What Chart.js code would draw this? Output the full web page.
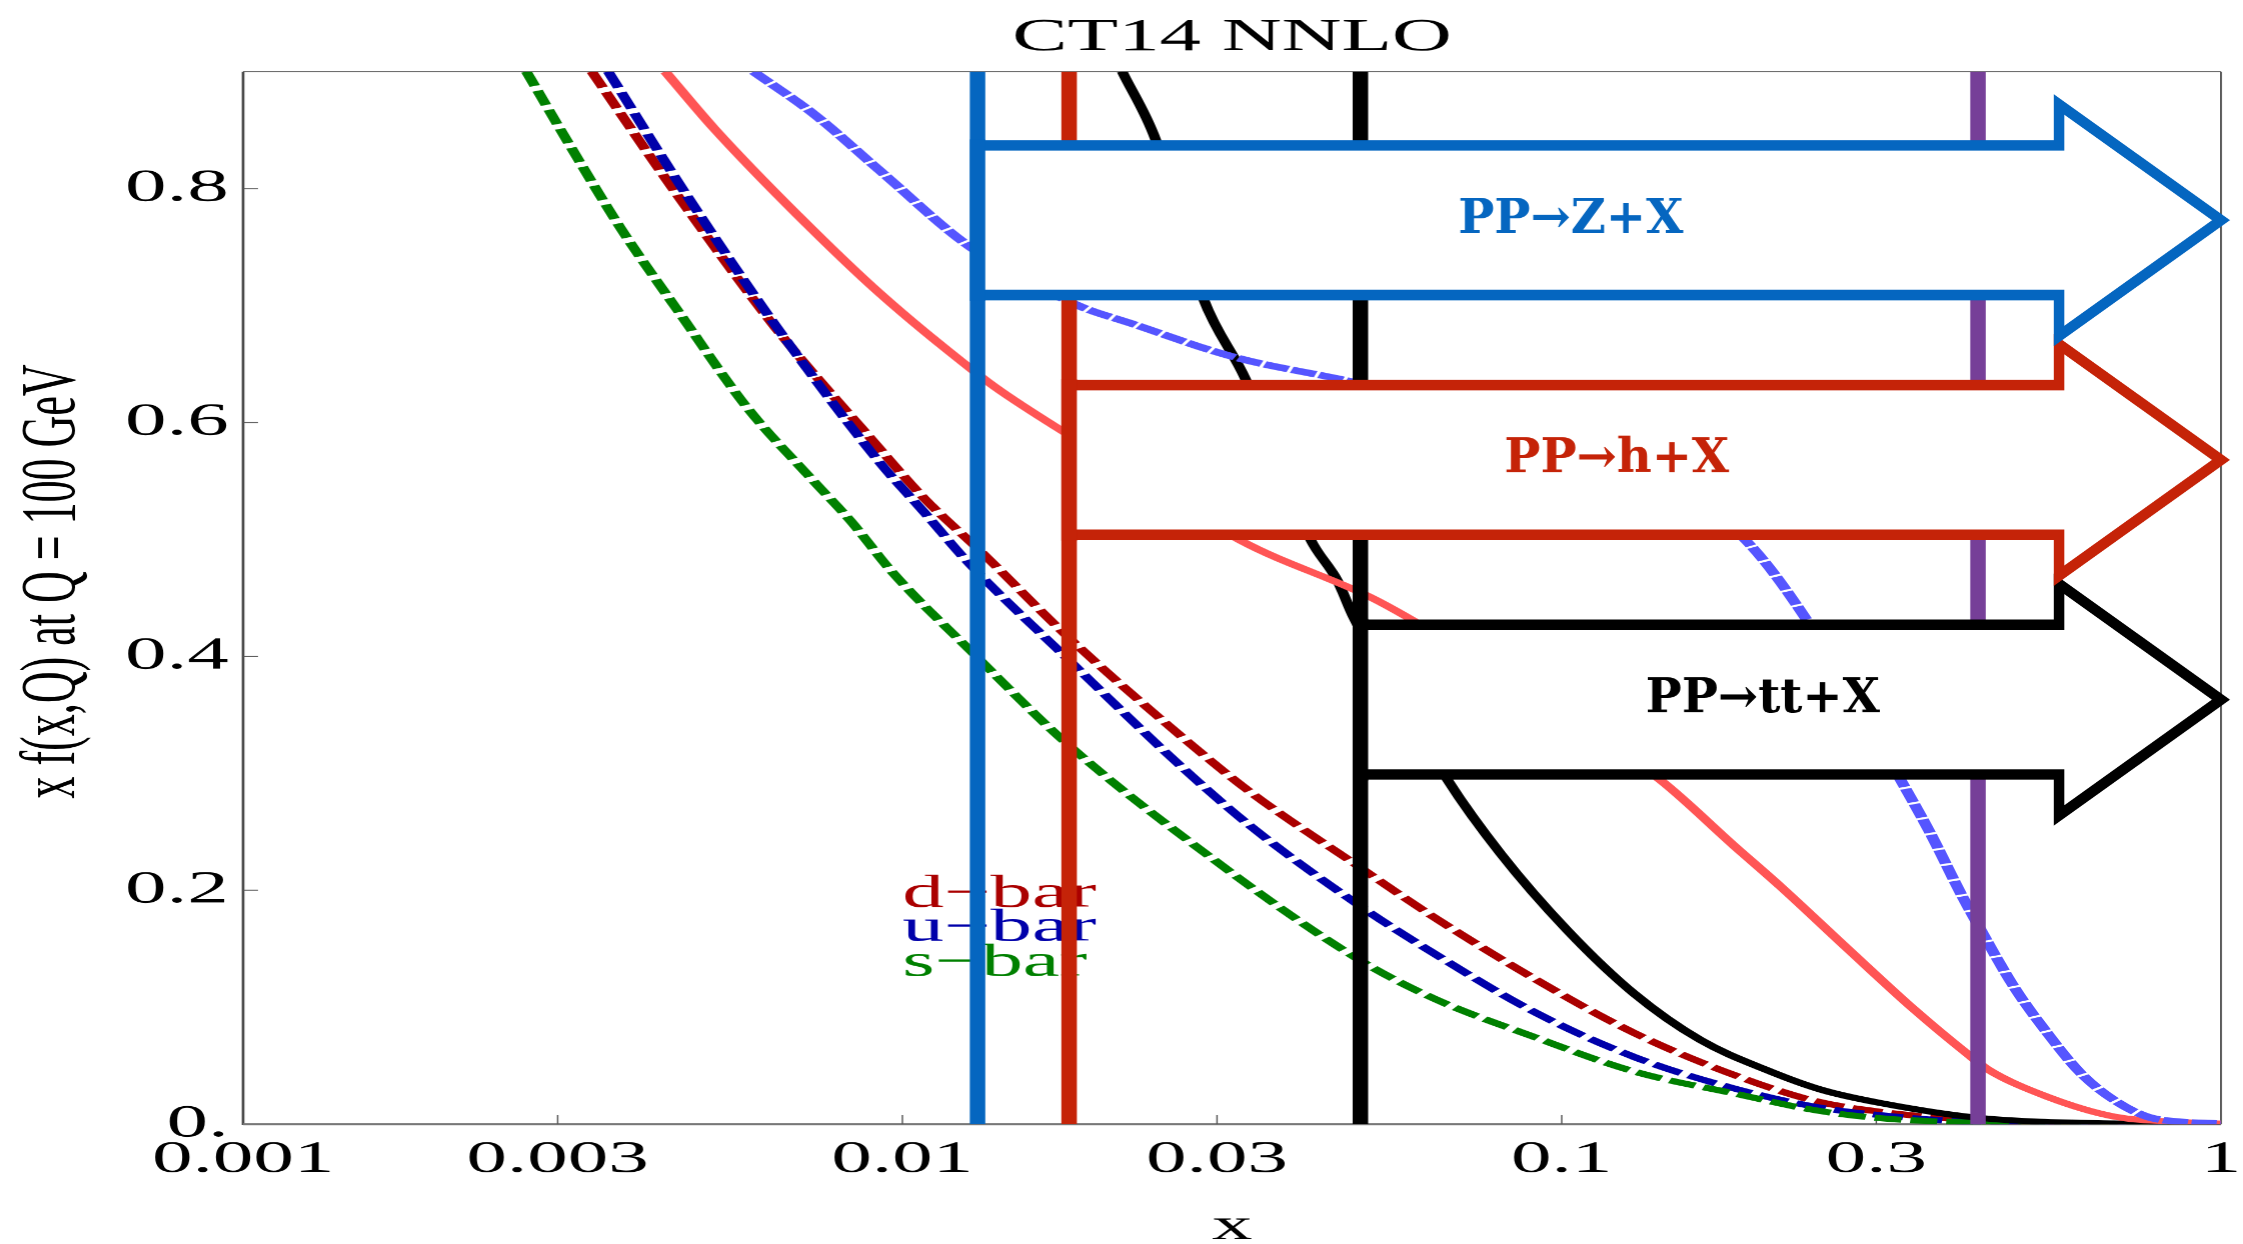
<!DOCTYPE html>
<html><head><meta charset="utf-8">
<script src="https://cdn.jsdelivr.net/npm/chart.js@4/dist/chart.umd.min.js"></script>
<style>
html,body{margin:0;padding:0;background:#fff;overflow:hidden;width:2243px;height:1244px}
#wrap{position:absolute;left:0;top:0;width:1246px;height:1254px;transform:scaleX(1.8002);transform-origin:0 0}
</style></head>
<body><div id="wrap"><canvas id="c"></canvas></div>
<script>
// ---------- data ----------
const xTickValues = [0.001, 0.003, 0.01, 0.03, 0.1, 0.3, 1];
const xTickLabels = ['0.001', '0.003', '0.01', '0.03', '0.1', '0.3', '1'];
const yTickValues = [0, 0.2, 0.4, 0.6, 0.8];
const yTickLabels = ['0.', '0.2', '0.4', '0.6', '0.8'];

const dbarX = [0.00338, 0.00455, 0.00642, 0.0090, 0.0108, 0.0133, 0.0178, 0.0267, 0.0337, 0.049, 0.064, 0.0908, 0.1287, 0.1826, 0.2415, 0.30, 0.43, 0.60, 1];
const dbarY = [0.900, 0.795, 0.681, 0.585, 0.535, 0.487, 0.417, 0.330, 0.284, 0.221, 0.177, 0.1245, 0.078, 0.042, 0.020, 0.011, 0.003, 0.0006, 0];

const ubarX = [0.00358, 0.00470, 0.00646, 0.00920, 0.0108, 0.0125, 0.0178, 0.0267, 0.0337, 0.049, 0.064, 0.0908, 0.1287, 0.1826, 0.2415, 0.30, 0.43, 0.60, 1];
const ubarY = [0.900, 0.795, 0.681, 0.567, 0.523, 0.482, 0.398, 0.304, 0.255, 0.188, 0.146, 0.096, 0.0575, 0.0305, 0.015, 0.008, 0.0015, 0.0003, 0];

const sbarX = [0.00269, 0.00310, 0.00373, 0.00460, 0.00581, 0.00733, 0.00834, 0.00969, 0.0130, 0.01755, 0.0267, 0.0488, 0.064, 0.0908, 0.1287, 0.1826, 0.2415, 0.305, 0.43, 0.60, 1];
const sbarY = [0.900, 0.841, 0.767, 0.693, 0.613, 0.550, 0.516, 0.471, 0.399, 0.328, 0.2455, 0.142, 0.1074, 0.0746, 0.045, 0.0262, 0.012, 0.005, 0.0012, 0.0002, 0];

const lightRedX = [0.00437, 0.00517, 0.00692, 0.00926, 0.01283, 0.01409, 0.0178, 0.0250, 0.0326, 0.0513, 0.0602, 0.095, 0.1413, 0.1826, 0.2149, 0.2714, 0.3424, 0.4126, 0.4424, 0.5458, 0.6886, 0.8695, 1];
const lightRedY = [0.900, 0.852, 0.778, 0.710, 0.644, 0.627, 0.590, 0.540, 0.499, 0.4505, 0.429, 0.360, 0.294, 0.238, 0.203, 0.150, 0.098, 0.060, 0.047, 0.0233, 0.0065, 0.0018, 0.0005];

const lightBlueX = [0.00595, 0.00733, 0.00926, 0.01268, 0.0183, 0.02244, 0.03183, 0.04619, 0.070, 0.100, 0.140, 0.188, 0.238, 0.3269, 0.363, 0.4032, 0.4323, 0.4858, 0.5458, 0.6133, 0.6886, 0.774, 0.8695, 1];
const lightBlueY = [0.900, 0.864, 0.815, 0.750, 0.701, 0.684, 0.656, 0.637, 0.615, 0.590, 0.550, 0.502, 0.427, 0.294, 0.248, 0.197, 0.166, 0.117, 0.0775, 0.0433, 0.0205, 0.0062, 0.002, 0.0005];

const blackX = [0.02155, 0.02421, 0.02865, 0.03315, 0.04159, 0.04566, 0.04838, 0.0671, 0.08078, 0.102, 0.1287, 0.1625, 0.2051, 0.2472, 0.3048, 0.4323, 0.688, 1];
const blackY = [0.900, 0.842, 0.705, 0.637, 0.500, 0.465, 0.433, 0.2945, 0.2313, 0.1657, 0.1117, 0.0718, 0.046, 0.0295, 0.018, 0.0052, 0.0006, 0];

const vlineX = [0.0130, 0.0179, 0.0495, 0.428];

const legendLabels = ['d\u2212bar', 'u\u2212bar', 's\u2212bar'];
const legendX = 0.01;
const legendY = [0.186, 0.157, 0.127];

const arrowLabels = ['PP\u2192Z+X', 'PP\u2192h+X', 'PP\u2192tt+X'];
const arrowStartX = [0.0130, 0.0179, 0.0495];
const arrowBodyTop = [0.837, 0.632, 0.427];
const arrowBodyBottom = [0.709, 0.504, 0.299];
const arrowHeadTop = [0.872, 0.667, 0.462];
const arrowHeadBottom = [0.674, 0.469, 0.264];
const arrowNotchX = 0.568;
const arrowTipX = 1.0;
const arrowLabelX = [0.1032, 0.1212, 0.2018];

// ---------- styles ----------
const S = 1.8002;            // horizontal stretch of the original figure
const vlineColors = ['#0566c0', '#c52308', '#000000', '#763f98'];
const vlineWidth = 8.6;
const arrowColors = ['#0566c0', '#c52308', '#000000'];
const legendColors = ['#aa0000', '#0000aa', '#008000'];
const serif = '"Liberation Serif", "Times New Roman", serif';

function pts(xs, ys) { return xs.map((v, i) => ({x: v, y: ys[i]})); }

function curve(label, xs, ys, color, dash, width) {
  return {label, data: pts(xs, ys), borderColor: color, borderWidth: width, borderDash: dash,
    pointRadius: 0, fill: false, cubicInterpolationMode: 'monotone', clip: 0, order: 1};
}

const datasets = [
  curve('light blue', lightBlueX, lightBlueY, '#5555ff', [14, 2], 6.5),
  curve('light red', lightRedX, lightRedY, '#ff5555', [], 6),
  curve('black', blackX, blackY, '#000000', [], 6),
  curve('s-bar', sbarX, sbarY, '#008000', [15, 5], 6),
  curve('u-bar', ubarX, ubarY, '#0000aa', [17, 5], 6),
  curve('d-bar', dbarX, dbarY, '#aa0000', [17, 5], 6),
];
vlineX.forEach((v, i) => datasets.push({
  label: 'line ' + i, isVline: true, data: [{x: v, y: 0}, {x: v, y: 0.9}],
  borderColor: vlineColors[i], borderWidth: vlineWidth, pointRadius: 0, clip: 0, order: 0
}));

let legendDrawn = false;
const overlay = {
  id: 'overlay',
  beforeDatasetsDraw(chart) {
    const {ctx, chartArea: a, scales: {x, y}} = chart;
    legendDrawn = false;
    ctx.save();
    ctx.lineCap = 'butt';
    ctx.strokeStyle = '#4a4a4a';
    ctx.lineWidth = 1;
    ctx.beginPath();
    ctx.moveTo(a.left, a.top); ctx.lineTo(a.right, a.top);
    ctx.moveTo(a.right, a.top); ctx.lineTo(a.right, a.bottom);
    ctx.stroke();
    ctx.lineWidth = 1.5;
    ctx.beginPath(); ctx.moveTo(a.left, a.top); ctx.lineTo(a.left, a.bottom + 1); ctx.stroke();
    ctx.strokeStyle = '#777';
    ctx.lineWidth = 2.2;
    ctx.beginPath(); ctx.moveTo(a.left, a.bottom); ctx.lineTo(a.right, a.bottom); ctx.stroke();
    ctx.strokeStyle = '#555';
    ctx.lineWidth = 0.8;
    ctx.beginPath();
    xTickValues.forEach(v => {
      if (v > x.min && v < x.max) {
        const px = x.getPixelForValue(v);
        ctx.moveTo(px, a.bottom); ctx.lineTo(px, a.bottom - 9);
      }
    });
    yTickValues.forEach(v => {
      if (v > y.min) {
        const py = y.getPixelForValue(v);
        ctx.moveTo(a.left, py); ctx.lineTo(a.left + 8.3, py);
      }
    });
    ctx.stroke();
    ctx.restore();
  },
  beforeDatasetDraw(chart, args) {
    if (legendDrawn || !chart.data.datasets[args.index].isVline) return;
    legendDrawn = true;
    const {ctx, scales: {x, y}} = chart;
    ctx.save();
    ctx.font = '46px ' + serif;
    ctx.textAlign = 'left';
    ctx.textBaseline = 'alphabetic';
    legendLabels.forEach((t, i) => {
      ctx.fillStyle = legendColors[i];
      ctx.fillText(t, x.getPixelForValue(legendX), y.getPixelForValue(legendY[i]));
    });
    ctx.restore();
  },
  afterDatasetsDraw(chart) {
    const {ctx, scales: {x, y}} = chart;
    const X = v => x.getPixelForValue(v) * S;
    const Y = v => y.getPixelForValue(v);
    ctx.save();
    ctx.scale(1 / S, 1);
    for (let i = arrowLabels.length - 1; i >= 0; i--) {
      const x0 = X(arrowStartX[i]), xn = X(arrowNotchX), xt = X(arrowTipX);
      const bt = Y(arrowBodyTop[i]), bb = Y(arrowBodyBottom[i]);
      const ht = Y(arrowHeadTop[i]), hb = Y(arrowHeadBottom[i]);
      const yc = (bt + bb) / 2;
      ctx.beginPath();
      ctx.moveTo(x0, bt); ctx.lineTo(xn, bt); ctx.lineTo(xn, ht); ctx.lineTo(xt, yc);
      ctx.lineTo(xn, hb); ctx.lineTo(xn, bb); ctx.lineTo(x0, bb);
      ctx.fillStyle = '#ffffff';
      ctx.fill();
      ctx.strokeStyle = arrowColors[i];
      ctx.lineWidth = 10.5;
      ctx.lineJoin = 'miter';
      ctx.miterLimit = 10;
      ctx.lineCap = 'butt';
      ctx.stroke();
      // own vertical line stays visible along the arrow's open side
      ctx.beginPath();
      ctx.moveTo(x0, bt - 6); ctx.lineTo(x0, bb + 6);
      ctx.strokeStyle = vlineColors[i];
      ctx.lineWidth = vlineWidth * S;
      ctx.stroke();
      ctx.fillStyle = arrowColors[i];
      ctx.font = 'bold 48px "DejaVu Serif", serif';
      ctx.textAlign = 'center';
      ctx.textBaseline = 'middle';
      ctx.fillText(arrowLabels[i], X(arrowLabelX[i]), yc);
    }
    ctx.restore();
  }
};

Chart.defaults.font.family = serif;
Chart.defaults.color = '#000';

new Chart(document.getElementById('c'), {
  type: 'line',
  data: {datasets},
  plugins: [overlay],
  options: {
    responsive: true,
    maintainAspectRatio: false,
    devicePixelRatio: 1.8,
    animation: false,
    events: [],
    layout: {padding: 0},
    plugins: {
      legend: {display: false},
      tooltip: {enabled: false},
      title: {display: true, fullSize: false, text: 'CT14 NNLO', color: '#000',
        font: {size: 46, weight: 'normal', family: serif}, padding: {top: 10.5, bottom: 6}}
    },
    scales: {
      x: {
        type: 'logarithmic', min: 0.001, max: 1,
        grid: {display: false, drawTicks: false}, border: {display: false},
        afterBuildTicks: s => { s.ticks = xTickValues.map(v => ({value: v})); },
        afterFit: s => { s.height = 130; s.paddingLeft = 0; s.paddingRight = 12.7; },
        ticks: {autoSkip: false, maxRotation: 0, padding: 9, color: '#000',
          font: {size: 45, family: serif}, callback: (v, i) => xTickLabels[i]},
        title: {display: true, text: 'x', color: '#000', font: {size: 45, family: serif}, padding: {top: 0, bottom: 0}}
      },
      y: {
        type: 'linear', min: 0, max: 0.9,
        grid: {display: false, drawTicks: false}, border: {display: false},
        afterBuildTicks: s => { s.ticks = yTickValues.map(v => ({value: v})); },
        afterFit: s => { s.width = 135; s.paddingTop = 0; s.paddingBottom = 0; },
        ticks: {autoSkip: false, padding: 8, color: '#000',
          font: {size: 46, family: serif}, callback: (v, i) => yTickLabels[i]},
        title: {display: true, text: '   x f(x,Q) at Q = 100 GeV', color: '#000',
          font: {size: 44, family: serif}, padding: {top: 3, bottom: 0}}
      }
    }
  }
});
</script>
</body></html>
